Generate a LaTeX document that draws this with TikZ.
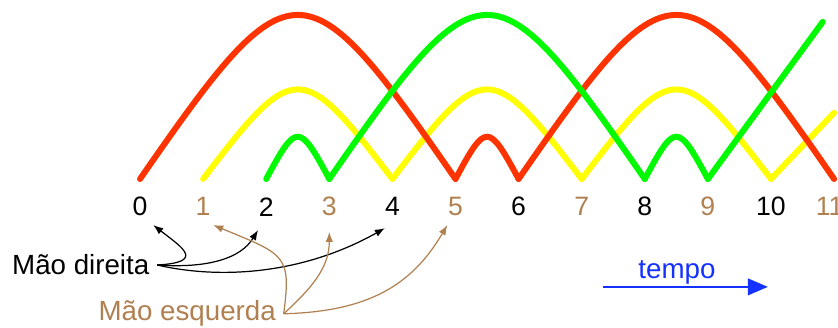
\documentclass[tikz,border=0pt]{standalone}
\usepackage{fontspec}
\setmainfont{Liberation Sans}
\usetikzlibrary{arrows.meta}
\definecolor{ballred}{RGB}{255,51,0}
\definecolor{ballgreen}{RGB}{0,250,0}
\definecolor{ballyellow}{RGB}{255,255,0}
\definecolor{lefthand}{RGB}{176,128,80}
\definecolor{timeblue}{RGB}{20,50,255}
\tikzset{
    ball/.style={
        line width=2.7pt,
        line cap=round
    },
    beat/.style={
        font=\fontsize{12}{14}\selectfont,
        inner sep=4pt
    },
    hand/.style={
        font=\fontsize{12.5}{15}\selectfont
    },
    throw/.style={
        line width=0.55pt,
        -{Latex[length=4.5pt,width=3.4pt]}
    }
}

\begin{document}
\begin{tikzpicture}
    \useasboundingbox (-2.219,-2.361) rectangle (11.062,2.837);
    \foreach \s/\n/\h in {1/3/1.42, 4/3/1.42, 7/3/1.42}
        \draw [ball, ballyellow] (\s,0) .. controls +(0.48*\n,4/3*\h) and +(-0.48*\n,4/3*\h) .. (\s+\n,0);
    \draw [ball, ballyellow] (10,0) -- (11.0,1.05);
    \foreach \s/\n/\h in {0/5/2.6, 5/1/0.67, 6/5/2.6}
        \draw [ball, ballred] (\s,0) .. controls +(0.48*\n,4/3*\h) and +(-0.48*\n,4/3*\h) .. (\s+\n,0);
    \foreach \s/\n/\h in {2/1/0.67, 3/5/2.6, 8/1/0.67}
        \draw [ball, ballgreen] (\s,0) .. controls +(0.48*\n,4/3*\h) and +(-0.48*\n,4/3*\h) .. (\s+\n,0);
    \draw [ball, ballgreen] (9,0) -- (10.82,2.49);

    \foreach \k in {0,2,...,10}
        \node [beat] (n\k) at (\k,-0.44) {\k};
    \foreach \k in {1,3,...,9}
        \node [beat, lefthand] (n\k) at (\k,-0.44) {\k};
    \node [beat, lefthand] (n11) at (10.93,-0.44) {11};

    \node [hand, anchor=base west] (md) at (-2.15,-1.52) {Mão direita};
    \node [hand, lefthand, anchor=base west] (me) at (-0.78,-2.25) {Mão esquerda};
    \node [hand, timeblue, anchor=base] (tp) at (8.51,-1.57) {tempo};

    \draw [throw] (md.east) .. controls (1.05,-1.32) and (0.66,-1.08) .. ([shift={(0.21,-0.29)}]n0.center);
    \draw [throw] (md.east) .. controls (1.1,-1.42) and (1.6,-1.25) .. ([shift={(-0.13,-0.37)}]n2.center);
    \draw [throw] (md.east) .. controls (1.3,-1.6) and (2.6,-1.5) .. ([shift={(-0.12,-0.34)}]n4.center);
    \draw [throw, lefthand] (me.east) .. controls (2.4,-1.2) and (2.3,-1.2) .. ([shift={(0.16,-0.29)}]n1.center);
    \draw [throw, lefthand] (me.east) .. controls (2.73,-1.72) and (3.0,-1.4) .. ([shift={(0,-0.40)}]n3.center);
    \draw [throw, lefthand] (me.east) .. controls (3.6,-2.1) and (4.3,-1.7) .. ([shift={(-0.13,-0.29)}]n5.center);

    \coordinate (t0) at (7.34,-1.71);
    \coordinate (t1) at (9.95,-1.71);
    \draw [timeblue, line width=0.9pt, -{Triangle[length=9pt,width=7.5pt]}] (t0) -- (t1);
\end{tikzpicture}
\end{document}
